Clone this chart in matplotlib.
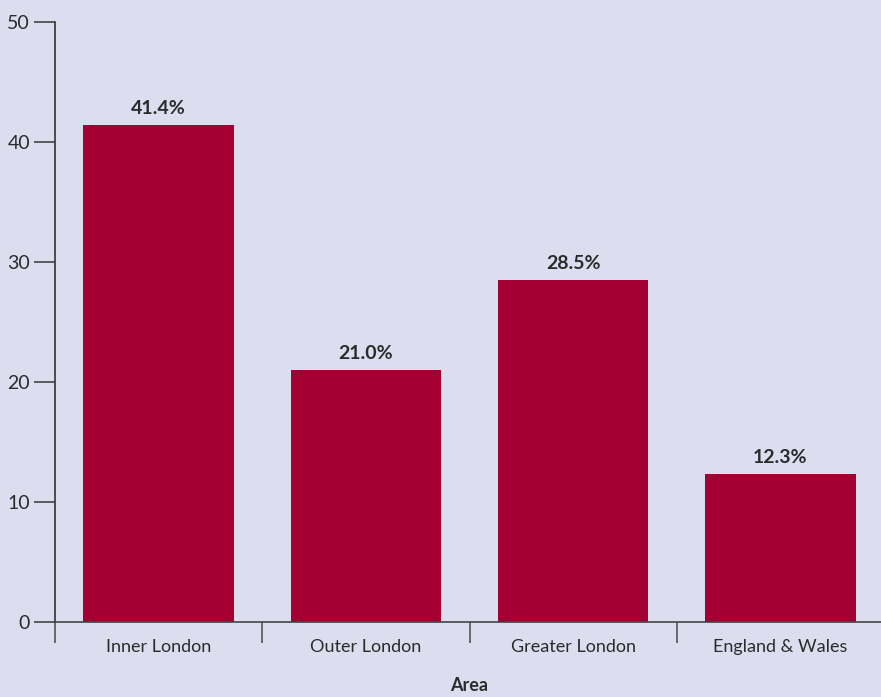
import matplotlib.pyplot as plt
import numpy as np

# Share of population by area (%)
areas = ["Inner London", "Outer London", "Greater London", "England & Wales"]
shares = [41.4, 21.0, 28.5, 12.3]

bg = "#dcdef0"
bar_color = "#a50034"
ink = "#2b2b2b"

plt.rcParams["font.family"] = ["Lato", "DejaVu Sans"]

fig = plt.figure(figsize=(8.81, 6.97), dpi=100, facecolor=bg)
ax = fig.add_axes([55 / 881, 75 / 697, 829 / 881, 600 / 697], facecolor=bg)

x = np.arange(len(areas))
ax.bar(x, shares, width=0.725, color=bar_color, zorder=2)

for xi, v in zip(x, shares):
    ax.text(xi, v + 0.7, f"{v:.1f}%", ha="center", va="bottom",
            fontsize=14, fontweight="bold", color=ink)

ax.set_xlim(-0.5, len(areas) - 0.5)
ax.set_ylim(0, 50)
ax.set_yticks(range(0, 51, 10))

# category labels centred, ticks on category boundaries
ax.set_xticks(np.arange(-0.5, len(areas) + 0.5, 1.0))
ax.set_xticklabels([""] * (len(areas) + 1))
ax.set_xticks(x, minor=True)
ax.set_xticklabels(areas, minor=True)
ax.tick_params(axis="x", which="minor", length=0, pad=12, labelsize=13, labelcolor=ink)
ax.tick_params(axis="x", which="major", length=15, width=1.2, color="#555555")
ax.tick_params(axis="y", length=15, width=1.2, color="#444444", pad=3,
               labelsize=14, labelcolor=ink)

for side in ["top", "right"]:
    ax.spines[side].set_visible(False)
ax.spines["left"].set_color("#333333")
ax.spines["bottom"].set_color("#444444")
ax.spines["left"].set_linewidth(1.2)
ax.spines["bottom"].set_linewidth(1.2)

ax.set_xlabel("Area", fontsize=13, fontweight="bold", color=ink, labelpad=16)

fig.savefig("out.png", dpi=100, facecolor=bg)
